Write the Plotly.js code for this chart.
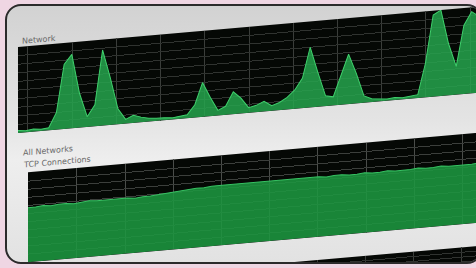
<!DOCTYPE html>
<html>
<head>
<meta charset="utf-8">
<script src="https://cdn.plot.ly/plotly-3.0.1.min.js"></script>
<style>
  html, body { margin: 0; padding: 0; width: 476px; height: 268px; overflow: hidden; background: #efd6e3; }
  #win { position: absolute; left: 5px; top: 4px; width: 474px; height: 256px; border: 2px solid #2b2b2b; border-radius: 16px;
         background: linear-gradient(180deg, #d2d2d2 0%, #e4e4e4 45%, #eeeeee 60%, #e2e2e2 100%); overflow: hidden; }
  #chart { position: absolute; left: 0; top: 0; width: 480px; height: 330px; transform: skewY(-5deg); transform-origin: 0 0; }
</style>
</head>
<body>
<div id="win"><div id="chart"></div></div>
<script>
// Network throughput (% of scale), one sample per second
const netTime = [0,1,2,3,4,5,6,7,8,9,10,11,12,13,14,15,16,17,18,19,20,21,22,23,24,25,26,27,28,29,30,31,32,33,34,35,36,37,38,39,40,41,42,43,44,45,46,47,48,49,50,51,52,53,54,55,56,57,58,59,60,61];
const netValue = [3,2,3,2,3,20,75,86,40,12,25,88,55,18,5,9,6,4,3,3,2,3,4,15,40,22,6,10,26,18,6,8,12,6,9,14,22,35,70,40,12,10,35,58,35,8,4,3,2,3,2,3,4,40,95,100,60,33,80,95,88,82];
// TCP connections (% of scale)
const tcpTime = [0,1,2,3,4,5,6,7,8,9,10,11,12,13,14,15,16,17,18,19,20,21,22,23,24,25,26,27,28,29,30,31,32,33,34,35,36,37,38,39,40,41,42,43,44,45,46,47,48,49,50,51,52,53,54,55,56,57,58,59,60];
const tcpValue = [60.5,60.5,61.5,60.5,61.5,61.5,60.5,61.5,62.3,61.5,61.5,62.3,61.5,61.5,60.5,61.5,61.5,62.3,62.3,63.1,64,64.8,65.7,65.7,66.6,66.6,66.6,66.6,67.4,66.6,66.6,67.4,67.4,66.6,66.6,66.6,67.4,66.6,66.6,65.7,66.6,66.6,65.7,65.7,66.6,65.7,65.7,66.6,65.7,65.7,65.7,66.6,65.7,65.7,66.6,65.7,65.7,65.7,65.7,66.6,66.6];
const labels = ["Network", "All Networks", "TCP Connections"];

const data = [
  { x: netTime, y: netValue, type: 'scatter', mode: 'lines', fill: 'tozeroy',
    line: { color: '#3fd06c', width: 1 }, fillcolor: 'rgba(38,165,78,0.85)', xaxis: 'x', yaxis: 'y', hoverinfo: 'skip' },
  { x: tcpTime, y: tcpValue, type: 'scatter', mode: 'lines', fill: 'tozeroy',
    line: { color: '#37c263', width: 1 }, fillcolor: 'rgba(28,150,64,0.88)', xaxis: 'x2', yaxis: 'y2', hoverinfo: 'skip' },
  { x: [], y: [], type: 'scatter', mode: 'lines', xaxis: 'x3', yaxis: 'y3', hoverinfo: 'skip' }
];

const gridAxis = (extra) => Object.assign({ showticklabels: false, zeroline: false, showline: false, ticks: '', fixedrange: true }, extra);

const layout = {
  width: 480, height: 330,
  margin: { l: 0, r: 0, t: 0, b: 0 },
  paper_bgcolor: 'rgba(0,0,0,0)',
  plot_bgcolor: '#050805',
  showlegend: false,
  xaxis: gridAxis({ domain: [0.0229, 1], range: [0, 61], tick0: 1.3, dtick: 5.75, gridcolor: '#3a3d3a', anchor: 'y' }),
  yaxis: gridAxis({ domain: [0.6121, 0.8727], range: [0, 100], dtick: 10, gridcolor: '#303330', anchor: 'x' }),
  xaxis2: gridAxis({ domain: [0.04375, 1], range: [0, 60], tick0: 0.1, dtick: 6.3, gridcolor: '#4a4d4a', anchor: 'y2' }),
  yaxis2: gridAxis({ domain: [0.218, 0.491], range: [0, 100], dtick: 9, gridcolor: '#3c3f3c', anchor: 'x2' }),
  xaxis3: gridAxis({ domain: [0.04375, 1], range: [0, 60], dtick: 6.3, gridcolor: '#3a3d3a', anchor: 'y3' }),
  yaxis3: gridAxis({ domain: [0, 0.148], range: [0, 100], dtick: 10, gridcolor: '#303330', anchor: 'x3' }),
  annotations: [
    { text: labels[0], xref: 'paper', yref: 'paper', x: 0.027, y: 0.888, xanchor: 'left', yanchor: 'middle', showarrow: false,
      font: { family: 'DejaVu Sans', size: 8, color: '#6a6a6a' } },
    { text: labels[1], xref: 'paper', yref: 'paper', x: 0.03, y: 0.549, xanchor: 'left', yanchor: 'middle', showarrow: false,
      font: { family: 'DejaVu Sans', size: 8, color: '#6a6a6a' } },
    { text: labels[2], xref: 'paper', yref: 'paper', x: 0.03, y: 0.515, xanchor: 'left', yanchor: 'middle', showarrow: false,
      font: { family: 'DejaVu Sans', size: 8, color: '#6a6a6a' } }
  ]
};

Plotly.newPlot('chart', data, layout, { staticPlot: true, displayModeBar: false });
</script>
</body>
</html>
